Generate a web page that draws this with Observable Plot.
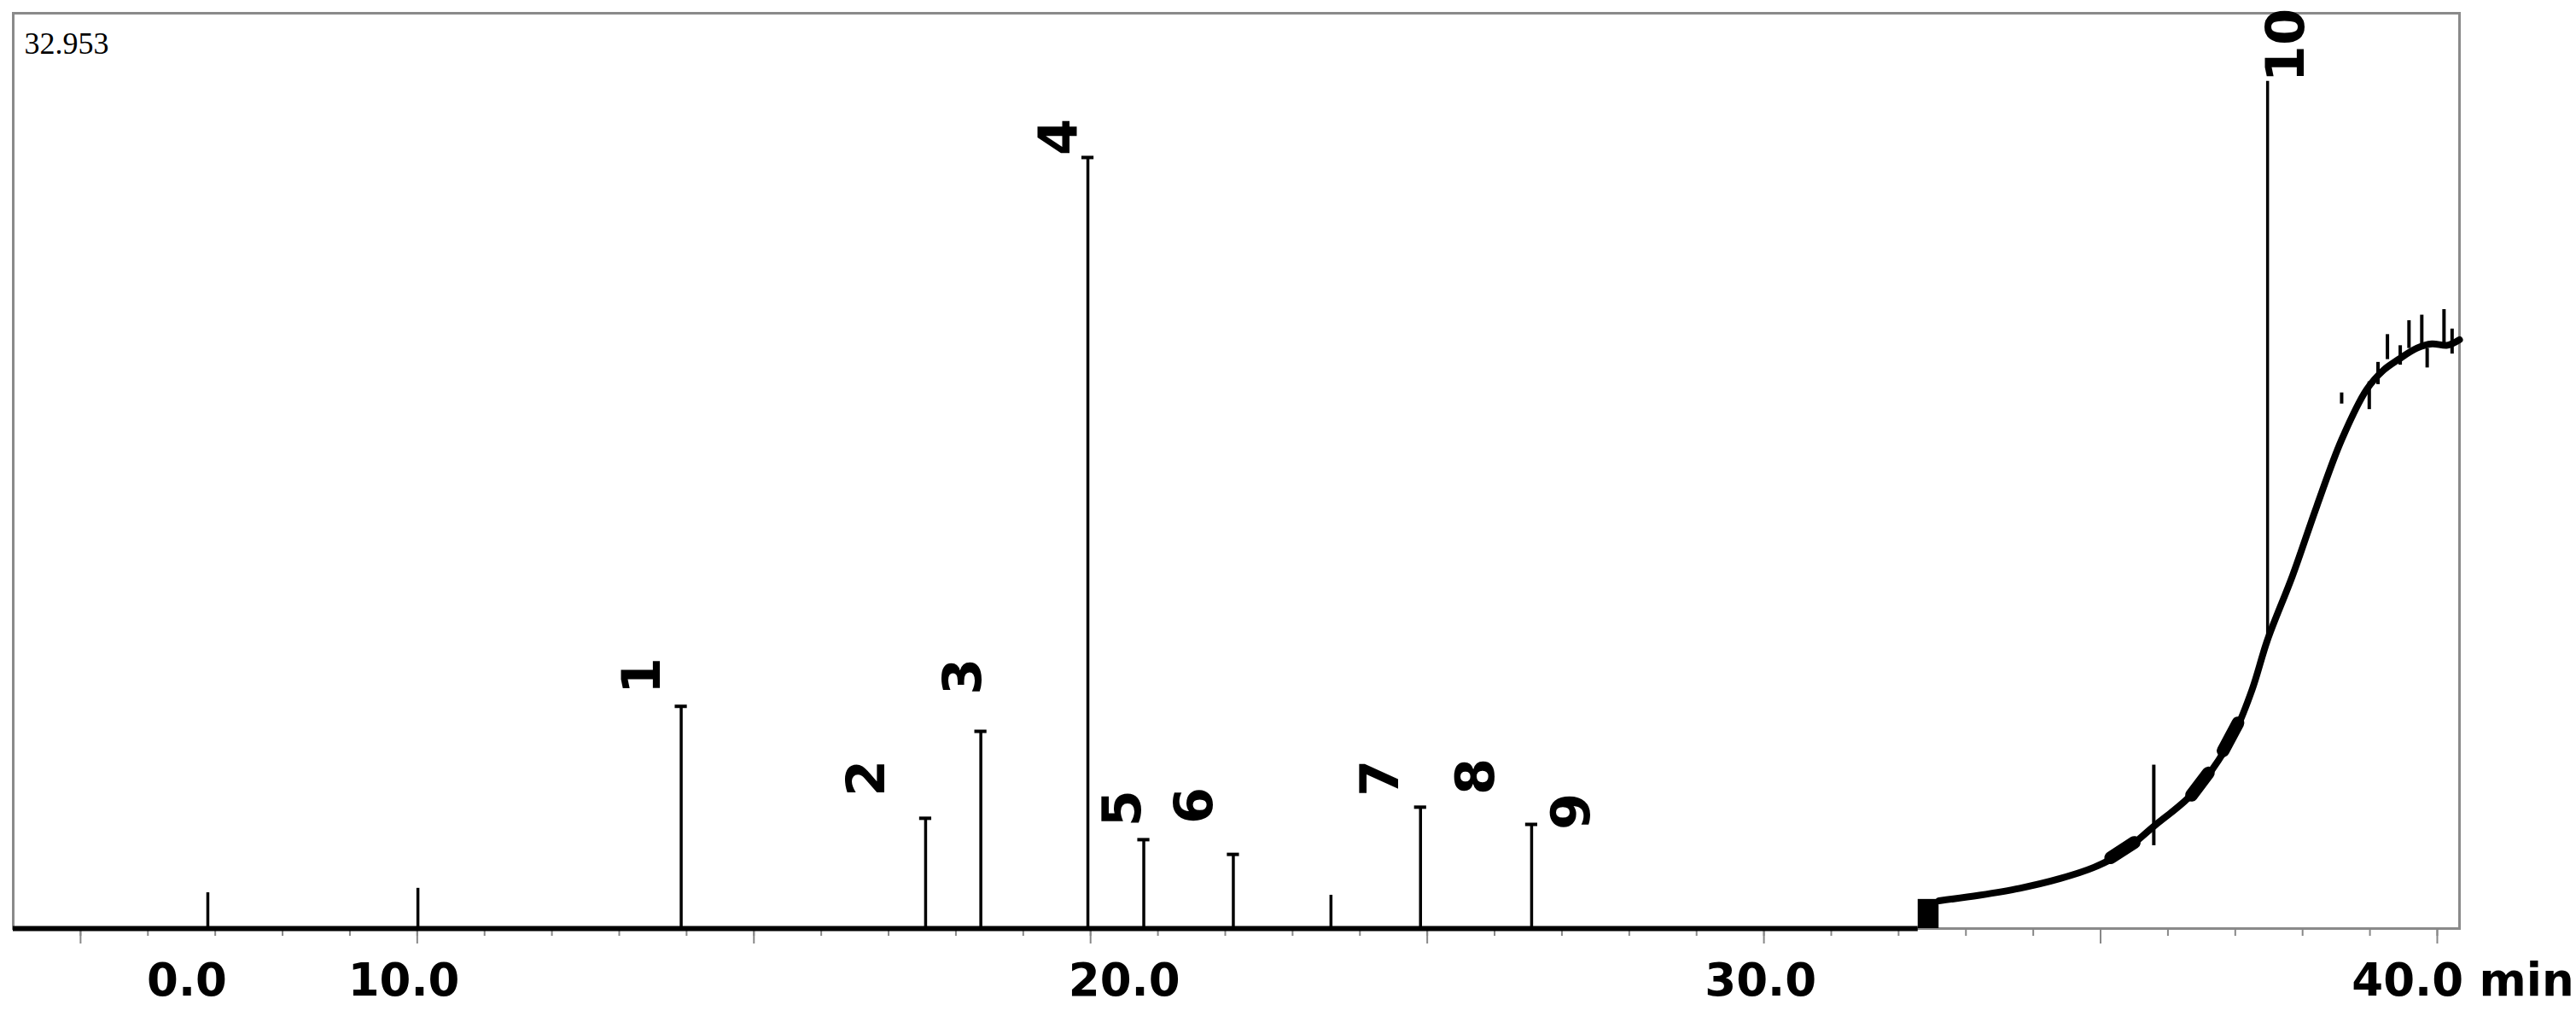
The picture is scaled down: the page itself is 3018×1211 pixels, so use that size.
<!DOCTYPE html>
<html>
<head>
<meta charset="utf-8">
<script src="https://cdn.jsdelivr.net/npm/d3@7"></script>
<script src="https://cdn.jsdelivr.net/npm/@observablehq/plot@0.6"></script>
<style>
  html, body { margin: 0; padding: 0; background: #fff; }
  #chart svg { display: block; }
</style>
</head>
<body>
<div id="chart"></div>
<script>
// ---- data ----
const timeRange = [4.0, 40.33];          // minutes shown in the frame
const signalMax = 32.953;                // full-scale value printed top-left

// peaks (retention time in min, apex, base)
const peakTime   = [6.89, 10.01, 13.92, 17.55, 18.37, 19.96, 20.79, 22.12, 23.57, 24.90, 26.55, 37.48];
const peakHeight = [1.29, 1.45, 8.00, 3.97, 7.10, 27.76, 3.20, 2.67, 1.20, 4.37, 3.75, 30.5];
const peakBase   = [0, 0, 0, 0, 0, 0, 0, 0, 0, 0, 0, 10.4];
const peakMarked = [false, false, true, true, true, true, true, true, false, true, true, false];

// peak number labels
const labelText  = ["1", "2", "3", "4", "5", "6", "7", "8", "9", "10"];
const labelTime  = [13.35, 16.69, 18.12, 19.54, 20.49, 21.55, 24.31, 25.74, 27.15, 37.77];
const labelValue = [9.10, 5.41, 9.07, 28.5, 4.33, 4.43, 5.41, 5.47, 4.21, 31.8];

// flat baseline, then step and rising gradient baseline
const baselineEnd = 32.29;
const stepEnd = 32.60;
const stepTop = 1.05;
const curveTime  = [32.60, 33.2, 33.8, 34.4, 34.9, 35.3, 35.8, 36.3, 36.65, 37.0, 37.25, 37.48, 37.85, 38.21, 38.58, 38.95, 39.2, 39.43, 39.7, 39.92, 40.15, 40.33];
const curveValue = [1.00, 1.20, 1.45, 1.80, 2.20, 2.70, 3.70, 4.70, 5.70, 7.10, 8.60, 10.4, 12.7, 15.2, 17.6, 19.4, 20.1, 20.5, 20.9, 21.05, 21.0, 21.2];

// thick blotches along the rising baseline
const blobT1 = [35.15, 36.35, 36.82];
const blobV1 = [2.55, 4.80, 6.40];
const blobT2 = [35.50, 36.60, 37.04];
const blobV2 = [3.10, 5.60, 7.40];

// small integration spikes on the rising baseline
const spikeTime = [35.79, 38.58, 38.99, 39.12, 39.26, 39.45, 39.58, 39.77, 39.85, 40.10, 40.22];
const spikeLow  = [3.0, 18.9, 18.7, 19.6, 20.5, 20.3, 20.9, 21.0, 20.2, 21.1, 20.7];
const spikeHigh = [5.9, 19.3, 19.7, 20.4, 21.4, 21.0, 21.9, 22.1, 20.9, 22.3, 21.6];

// x-axis tick labels as printed
const tickLabels = ["0.0", "10.0", "20.0", "30.0", "40.0 min"];
const tickLabelTime = [6.58, 9.80, 20.5, 29.95, 40.38];
const minorTicks = [5,6,7,8,9,10,11,12,13,14,15,16,17,18,19,20,21,22,23,24,25,26,27,28,29,30,31,32,33,34,35,36,37,38,39,40];
const majorTicks = [5, 10, 15, 20, 25, 30, 35, 40];

// ---- tables built from the arrays ----
const peaks = peakTime.map((t, i) => ({t, h: peakHeight[i], base: peakBase[i], marked: peakMarked[i]}));
const labels = labelText.map((s, i) => ({s, t: labelTime[i], v: labelValue[i]}));
const curve = curveTime.map((t, i) => ({t, v: curveValue[i]}));
const blobs = blobT1.map((t, i) => ({t1: t, v1: blobV1[i], t2: blobT2[i], v2: blobV2[i]}));
const spikes = spikeTime.map((t, i) => ({t, lo: spikeLow[i], hi: spikeHigh[i]}));
const ticks = tickLabels.map((s, i) => ({s, t: tickLabelTime[i]}));

const chart = Plot.plot({
  width: 3018,
  height: 1211,
  marginLeft: 15,
  marginRight: 137,
  marginTop: 15,
  marginBottom: 124,
  style: {background: "#fff", overflow: "visible"},
  x: {domain: timeRange, axis: null},
  y: {domain: [0, signalMax], axis: null},
  marks: [
    Plot.frame({stroke: "#8a8a8a", strokeWidth: 3}),
    Plot.axisX({ticks: minorTicks, tickSize: 9, tickFormat: () => "", stroke: "#888", strokeWidth: 2}),
    Plot.axisX({ticks: majorTicks, tickSize: 18, tickFormat: () => "", stroke: "#888", strokeWidth: 2}),
    Plot.ruleY([0], {x1: timeRange[0], x2: baselineEnd, stroke: "#000", strokeWidth: 6}),
    Plot.rect([{a: baselineEnd, b: stepEnd}], {x1: "a", x2: "b", y1: 0, y2: stepTop, fill: "#000"}),
    Plot.line(curve, {x: "t", y: "v", stroke: "#000", strokeWidth: 8, strokeLinejoin: "round", curve: "catmull-rom"}),
    Plot.link(blobs, {x1: "t1", y1: "v1", x2: "t2", y2: "v2", stroke: "#000", strokeWidth: 15, strokeLinecap: "round"}),
    Plot.link(spikes, {x1: "t", x2: "t", y1: "lo", y2: "hi", stroke: "#000", strokeWidth: 4}),
    Plot.ruleX(peaks, {x: "t", y1: "base", y2: "h", stroke: "#000", strokeWidth: 3.5}),
    Plot.ruleY(peaks.filter(d => d.marked), {y: "h", x1: d => d.t - 0.09, x2: d => d.t + 0.09, stroke: "#000", strokeWidth: 4}),
    Plot.text(labels, {x: "t", y: "v", text: "s", rotate: -90, fontSize: 62, fontWeight: "bold", fontFamily: "DejaVu Sans", fill: "#000"}),
    Plot.text(ticks, {x: "t", text: "s", frameAnchor: "bottom", dy: 78, fontSize: 53, fontWeight: "bold", fontFamily: "DejaVu Sans", fill: "#000"}),
    Plot.text([signalMax.toFixed(3)], {frameAnchor: "top-left", textAnchor: "start", dx: 13, dy: 22, fontSize: 36, fontFamily: "Liberation Serif", fill: "#000"})
  ]
});
document.getElementById("chart").append(chart);
</script>
</body>
</html>
